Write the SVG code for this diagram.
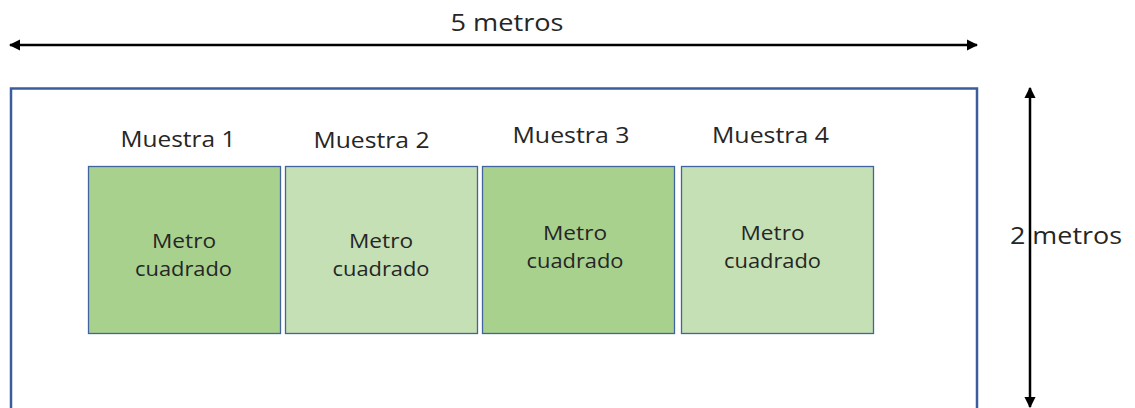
<svg xmlns="http://www.w3.org/2000/svg" width="1135" height="408" viewBox="0 0 1135 408">
<defs>
<marker id="ah" viewBox="0 0 10 10" refX="9" refY="5" markerWidth="4.5" markerHeight="4.5" orient="auto-start-reverse" markerUnits="strokeWidth">
<path d="M0,0 L10,5 L0,10 z" fill="#000"/>
</marker>
<style>
.t{font-family:"Open Sans","Liberation Sans",sans-serif;fill:#262626;text-anchor:middle}
.lbl{font-size:21px}
.in{font-size:20px}
.dim{font-size:23px}
.sq{stroke:#41639f;stroke-width:1.3}
.dk{fill:#a9d18e}
.lt{fill:#c5e0b4}
</style>
</defs>
<rect width="1135" height="408" fill="#fff"/>
<g id="area">
<rect x="11" y="88.5" width="966" height="340" fill="none" stroke="#3b5d9c" stroke-width="2.5"/>
</g>
<g id="connectors">
<line x1="10" y1="45" x2="977" y2="45" stroke="#000" stroke-width="2.5" marker-start="url(#ah)" marker-end="url(#ah)"/>
<line x1="1030" y1="88" x2="1030" y2="407" stroke="#000" stroke-width="2.5" marker-start="url(#ah)" marker-end="url(#ah)"/>
</g>
<g id="dim-width"><text class="t dim" x="507" y="31" textLength="113" lengthAdjust="spacingAndGlyphs">5 metros</text></g>
<g id="dim-height"><text class="t dim" x="1066" y="244" textLength="112" lengthAdjust="spacingAndGlyphs">2 metros</text></g>
<g id="m1">
<text class="t lbl" x="178" y="147" textLength="115" lengthAdjust="spacingAndGlyphs">Muestra 1</text>
<rect class="sq dk" x="88.5" y="166.5" width="192" height="167"/>
<text class="t in" x="184" y="248" textLength="64" lengthAdjust="spacingAndGlyphs">Metro</text>
<text class="t in" x="183.5" y="276" textLength="97" lengthAdjust="spacingAndGlyphs">cuadrado</text>
</g>
<g id="m2">
<text class="t lbl" x="371.5" y="148" textLength="116" lengthAdjust="spacingAndGlyphs">Muestra 2</text>
<rect class="sq lt" x="285.5" y="166.5" width="192" height="167"/>
<text class="t in" x="381" y="248" textLength="64" lengthAdjust="spacingAndGlyphs">Metro</text>
<text class="t in" x="381" y="276" textLength="97" lengthAdjust="spacingAndGlyphs">cuadrado</text>
</g>
<g id="m3">
<text class="t lbl" x="571" y="143" textLength="117" lengthAdjust="spacingAndGlyphs">Muestra 3</text>
<rect class="sq dk" x="482.5" y="166.5" width="192" height="167"/>
<text class="t in" x="575" y="240" textLength="64" lengthAdjust="spacingAndGlyphs">Metro</text>
<text class="t in" x="575" y="268" textLength="97" lengthAdjust="spacingAndGlyphs">cuadrado</text>
</g>
<g id="m4">
<text class="t lbl" x="770.5" y="143" textLength="117" lengthAdjust="spacingAndGlyphs">Muestra 4</text>
<rect class="sq lt" x="681.5" y="166.5" width="192" height="167"/>
<text class="t in" x="772.5" y="240" textLength="64" lengthAdjust="spacingAndGlyphs">Metro</text>
<text class="t in" x="772.5" y="268" textLength="97" lengthAdjust="spacingAndGlyphs">cuadrado</text>
</g>
</svg>
